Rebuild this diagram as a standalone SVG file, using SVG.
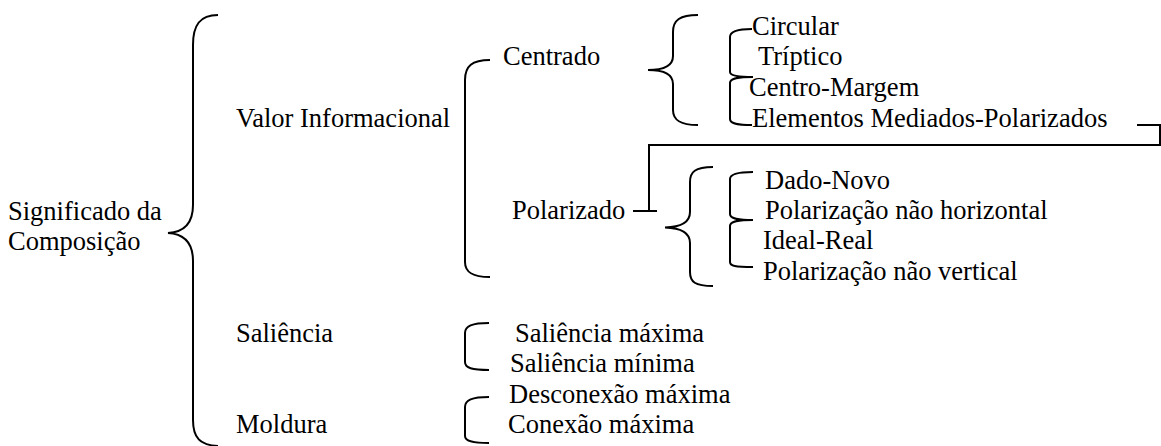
<svg xmlns="http://www.w3.org/2000/svg" width="1161" height="446" viewBox="0 0 1161 446">
<style>
text{font-family:"Liberation Serif","Times New Roman",Tinos,serif;font-size:26.5px;fill:#000}
.b{fill:none;stroke:#000;stroke-width:2;stroke-linecap:butt}
</style>
<rect width="1161" height="446" fill="#fff"/>
<g id="connectors">
<path class="b" d="M218,15 C200,15 193,25 193,45 L193,205 C193,222 185,232 168,233 C185,234 193,244 193,261 L193,420 C193,438 200,445 218,446"/>
<path class="b" d="M490,60 C472,60 465,66 465,80 V262 C465,272 472,277 490,277"/>
<path class="b" d="M489,323 C472,323 465,326 465,333 V362 C465,368 472,370 489,370"/>
<path class="b" d="M489,397 C472,397 465,400 465,407 V436 C465,441 472,443 489,443"/>
<path class="b" d="M698,15 C680,15 673,20 673,32 V56 C673,65 665,70 648,70 C665,70 673,75 673,84 V110 C673,120 680,125 698,125"/>
<path class="b" d="M713,167 C695,167 690,172 690,182 V212 C690,222 682,227 665,227.5 C682,228 690,233 690,243 V272 C690,282 695,286 713,286"/>
<path class="b" d="M752,29 C738,29 730,31 730,37 V72 C730,75 735,77 753,77 M753,77 C735,77 730,79 730,83 V119 C730,123 735,125 752,125"/>
<path class="b" d="M753,172 C738,172 730,174 730,179 V214 C730,218 735,220 753,220 M753,220 C735,220 730,222 730,226 V262 C730,266 735,267 753,267"/>
<path class="b" d="M1137,125 H1160 V145 H649 V211 M633,211 H657"/>
</g>
<g font-family="Liberation Serif, serif" font-size="26.5">
<g id="n-significado"><text x="8" y="220">Significado da</text><text x="8" y="250">Composição</text></g>
<g id="n-valor"><text x="236" y="127">Valor Informacional</text></g>
<g id="n-saliencia"><text x="236" y="342">Saliência</text></g>
<g id="n-moldura"><text x="236" y="433">Moldura</text></g>
<g id="n-centrado"><text x="503" y="65">Centrado</text></g>
<g id="n-polarizado"><text x="512" y="219">Polarizado</text></g>
<g id="n-circular"><text x="752" y="35">Circular</text></g>
<g id="n-triptico"><text x="758" y="65">Tríptico</text></g>
<g id="n-centromargem"><text x="749" y="96">Centro-Margem</text></g>
<g id="n-elementos"><text x="752" y="127">Elementos Mediados-Polarizados</text></g>
<g id="n-dadonovo"><text x="765" y="189">Dado-Novo</text></g>
<g id="n-polhoriz"><text x="765" y="219">Polarização não horizontal</text></g>
<g id="n-idealreal"><text x="763" y="249">Ideal-Real</text></g>
<g id="n-polvert"><text x="763" y="280">Polarização não vertical</text></g>
<g id="n-salmax"><text x="515" y="342">Saliência máxima</text></g>
<g id="n-salmin"><text x="510" y="372">Saliência mínima</text></g>
<g id="n-desconexao"><text x="509" y="403">Desconexão máxima</text></g>
<g id="n-conexao"><text x="508" y="433">Conexão máxima</text></g>
</g>
</svg>
